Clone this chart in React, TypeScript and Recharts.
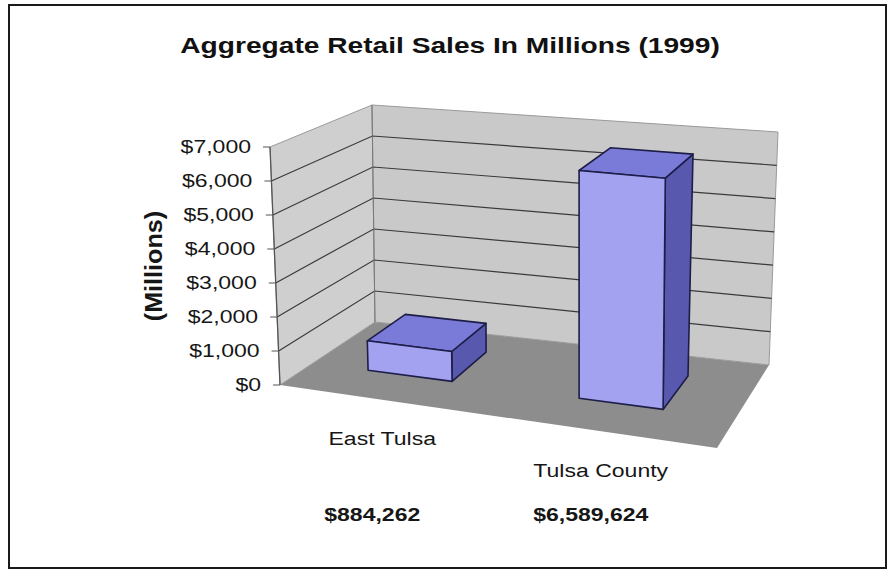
import { BarChart, Bar, XAxis, YAxis, ReferenceArea } from "recharts"

const categories = ["East Tulsa", "Tulsa County"]
const sales = [884.262, 6589.624] // in millions
const valueLabels = ["$884,262", "$6,589,624"]
const yTicks = [0, 1000, 2000, 3000, 4000, 5000, 6000, 7000]
const yTickLabels = ["$0", "$1,000", "$2,000", "$3,000", "$4,000", "$5,000", "$6,000", "$7,000"]

const data = categories.map((name, i) => ({ name, sales: sales[i] }))

const W = 894
const H = 574
const PLOT_L = 280
const PLOT_R = 717
const PLOT_T = 147
const PLOT_B = 385
const Y_W = 120
const X_H = 150
const FONT = "'Liberation Sans', Arial, Helvetica, sans-serif"
const STRETCH = 1.28 // the old picture is squeezed wide

// bars sit between these depths on the floor
const DEPTH_FRONT = 0.35
const DEPTH_BACK = 0.77
const U_SHIFT = -0.02

type Rect = { x: number; y: number; width: number; height: number }
type Pt = [number, number]

// fake 3d: floor corners + "up" vectors, relative to the front plane rect
function makeProjector(r: Rect) {
  const b = r.y + r.height
  const k = r.height / 238
  const FL: Pt = [r.x, b]
  const FR: Pt = [r.x + r.width, b + 63]
  const BL: Pt = [r.x + 95, b - 63]
  const BR: Pt = [r.x + 489, b - 20]
  const uFL: Pt = [-10, -r.height]
  const uFR: Pt = [2, -257 * k]
  const uBL: Pt = [-3, -217 * k]
  const uBR: Pt = [9, -233 * k]
  const bil = (a: Pt, bb: Pt, c: Pt, d: Pt, u: number, w: number): Pt => [
    (1 - u) * (1 - w) * a[0] + u * (1 - w) * bb[0] + (1 - u) * w * c[0] + u * w * d[0],
    (1 - u) * (1 - w) * a[1] + u * (1 - w) * bb[1] + (1 - u) * w * c[1] + u * w * d[1],
  ]
  return (u: number, w: number, h: number): Pt => {
    const f = bil(FL, FR, BL, BR, u, w)
    const up = bil(uFL, uFR, uBL, uBR, u, w)
    return [f[0] + up[0] * h, f[1] + up[1] * h]
  }
}

const plotRect: Rect = { x: PLOT_L, y: PLOT_T, width: PLOT_R - PLOT_L, height: PLOT_B - PLOT_T }
const proj = makeProjector(plotRect)

const pts = (list: Pt[]) => list.map((p) => `${p[0].toFixed(1)},${p[1].toFixed(1)}`).join(" ")

function SText({ x, y, children, size = 18, bold = false, anchor = "start", sx = STRETCH, fill = "#161616" }: any) {
  return (
    <text
      transform={`translate(${x},${y}) scale(${sx},1)`}
      fontSize={size}
      fontWeight={bold ? 700 : 400}
      fontFamily={FONT}
      textAnchor={anchor}
      fill={fill}
    >
      {children}
    </text>
  )
}

function Walls(props: any) {
  const r: Rect = { x: props.x, y: props.y, width: props.width, height: props.height }
  const p = makeProjector(r)
  const top = yTicks[yTicks.length - 1]
  return (
    <g>
      <polygon points={pts([p(0, 0, 0), p(1, 0, 0), p(1, 1, 0), p(0, 1, 0)])} fill="#8d8d8d" />
      <polygon points={pts([p(0, 0, 0), p(0, 1, 0), p(0, 1, 1), p(0, 0, 1)])} fill="#cfcfcf" stroke="#9a9a9a" />
      <polygon points={pts([p(0, 1, 0), p(1, 1, 0), p(1, 1, 1), p(0, 1, 1)])} fill="#c9c9c9" stroke="#9a9a9a" />
      {yTicks
        .filter((v) => v > 0 && v < top)
        .map((v) => {
          const h = v / top
          return (
            <polyline
              key={v}
              points={pts([p(0, 0, h), p(0, 1, h), p(1, 1, h)])}
              fill="none"
              stroke="#3a3a3a"
              strokeWidth={1.2}
            />
          )
        })}
      <line x1={p(0, 1, 0)[0]} y1={p(0, 1, 0)[1]} x2={p(0, 1, 1)[0]} y2={p(0, 1, 1)[1]} stroke="#777" />
      <line x1={p(0, 0, 0)[0]} y1={p(0, 0, 0)[1]} x2={p(0, 0, 1)[0]} y2={p(0, 0, 1)[1]} stroke="#555" strokeWidth={1.3} />
    </g>
  )
}

function Box3D(props: any) {
  const { x, width, height } = props
  const u0 = (x - PLOT_L) / plotRect.width + U_SHIFT
  const u1 = (x + width - PLOT_L) / plotRect.width + U_SHIFT
  const h = height / plotRect.height
  const f0b = proj(u0, DEPTH_FRONT, 0)
  const f1b = proj(u1, DEPTH_FRONT, 0)
  const f0t = proj(u0, DEPTH_FRONT, h)
  const f1t = proj(u1, DEPTH_FRONT, h)
  const b0t = proj(u0, DEPTH_BACK, h)
  const b1t = proj(u1, DEPTH_BACK, h)
  const b1b = proj(u1, DEPTH_BACK, 0)
  const line = { stroke: "#1d1d48", strokeWidth: 1.6, strokeLinejoin: "round" as const }
  return (
    <g>
      <polygon points={pts([f1b, b1b, b1t, f1t])} fill="#5858ae" {...line} />
      <polygon points={pts([f0t, f1t, b1t, b0t])} fill="#7a7ad8" {...line} />
      <polygon points={pts([f0b, f1b, f1t, f0t])} fill="#a2a2f0" {...line} />
    </g>
  )
}

function ValueTick(props: any) {
  const { y, payload } = props
  const h = (PLOT_B - y) / (PLOT_B - PLOT_T)
  const [ex] = proj(0, 0, h)
  const i = yTicks.indexOf(payload.value)
  return (
    <g>
      <line x1={ex - 7} y1={y} x2={ex} y2={y} stroke="#555" />
      <SText x={ex - 19} y={y + 6} anchor="end">
        {yTickLabels[i]}
      </SText>
    </g>
  )
}

function CategoryTick(props: any) {
  const { x, y, payload } = props
  const i = categories.indexOf(payload.value)
  return (
    <g>
      <SText x={x - 7} y={y + (i === 0 ? 60 : 92)} anchor="middle">
        {payload.value}
      </SText>
      <SText x={x - 17} y={y + 136} anchor="middle" bold>
        {valueLabels[i]}
      </SText>
    </g>
  )
}

export default function App() {
  return (
    <div style={{ position: "absolute", left: 0, top: 0, width: W, height: H, background: "#fff" }}>
      <svg width={W} height={H} style={{ position: "absolute", left: 0, top: 0 }}>
        <rect x={9} y={5} width={877} height={563} fill="#fff" stroke="#1a1a1a" strokeWidth={2} />
        <SText x={450} y={53} anchor="middle" size={22} bold fill="#111">
          Aggregate Retail Sales In Millions (1999)
        </SText>
        <text
          transform={`translate(162,266) rotate(-90) scale(1.4,${STRETCH})`}
          fontSize={18}
          fontWeight={700}
          fontFamily={FONT}
          textAnchor="middle"
          fill="#161616"
        >
          (Millions)
        </text>
      </svg>
      <div style={{ position: "absolute", left: 0, top: 0 }}>
        <BarChart
          width={W}
          height={H}
          data={data}
          barCategoryGap="30%"
          margin={{ top: PLOT_T, right: W - PLOT_R, bottom: H - PLOT_B - X_H, left: PLOT_L - Y_W }}
        >
          <XAxis
            dataKey="name"
            height={X_H}
            axisLine={false}
            tickLine={false}
            tickSize={0}
            tickMargin={0}
            interval={0}
            tick={<CategoryTick />}
          />
          <YAxis
            width={Y_W}
            domain={[0, 7000]}
            ticks={yTicks}
            interval={0}
            axisLine={false}
            tickLine={false}
            tickSize={0}
            tickMargin={0}
            tick={<ValueTick />}
          />
          <ReferenceArea y1={0} y2={7000} shape={<Walls />} />
          <Bar dataKey="sales" shape={<Box3D />} isAnimationActive={false} />
        </BarChart>
      </div>
    </div>
  )
}
